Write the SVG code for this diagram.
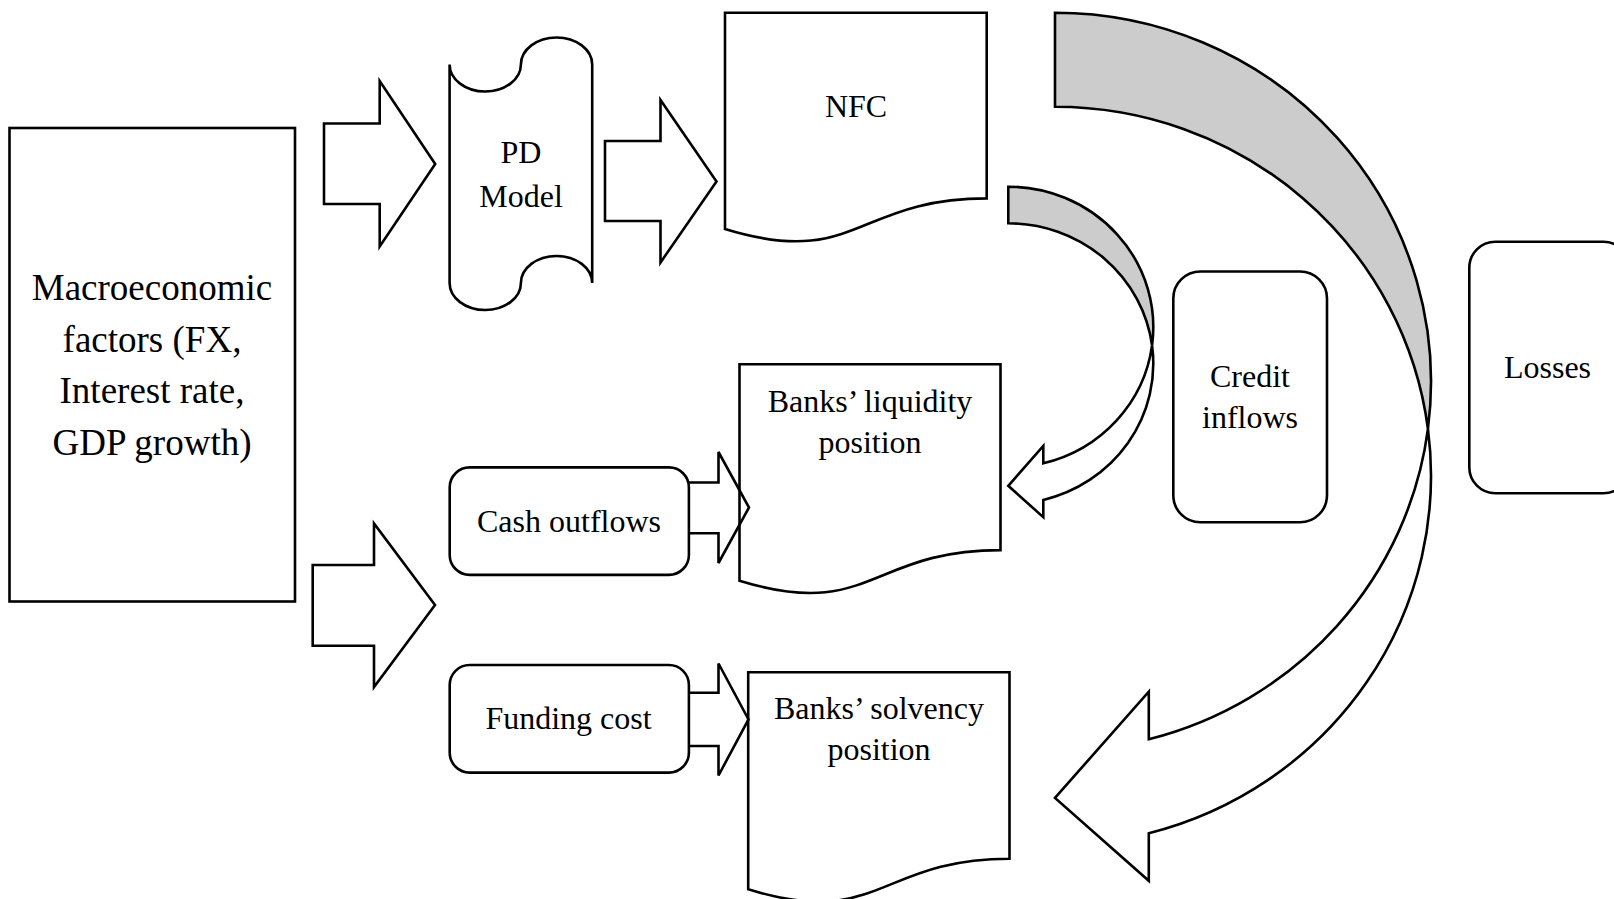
<svg xmlns="http://www.w3.org/2000/svg" width="1614" height="899" viewBox="0 0 1614 899">
<style>
.s{fill:#fff;stroke:#000;stroke-width:2.6;stroke-linejoin:miter}
.n{fill:none;stroke:#000;stroke-width:2.6}
.g{fill:#cccccc;stroke:#000;stroke-width:2.6}
.t{font-family:"Liberation Serif","Times New Roman",serif;font-size:32px;text-anchor:middle;fill:#000}
.tb{font-size:37px}
</style>
<rect width="1614" height="899" fill="#fff"/>
<g id="macro">
<rect class="s" x="9.5" y="128" width="285.5" height="473.5"/>
<text class="t tb" x="152" y="300">Macroeconomic</text>
<text class="t tb" x="152" y="351.5">factors (FX,</text>
<text class="t tb" x="152" y="403">Interest rate,</text>
<text class="t tb" x="152" y="454.5">GDP growth)</text>
</g>
<g id="pd-model">
<path class="s" d="M449.6 64.5 A35.6 27 0 0 0 520.9 64.5 A35.6 27 0 0 1 592.2 64.5 L592.2 283 A35.6 27 0 0 0 520.9 283 A35.6 27 0 0 1 449.6 283 Z"/>
<text class="t" x="521" y="163">PD</text>
<text class="t" x="521" y="206.5">Model</text>
</g>
<g id="nfc">
<path class="s" d="M725 12.7 L986.7 12.7 L986.7 198.4 C855.9 198.4 855.9 269.2 725 229 Z"/>
<text class="t" x="856" y="116.7">NFC</text>
</g>
<g id="liquidity">
<path class="s" d="M739.5 364.3 L1000.5 364.3 L1000.5 550.1 C870 550.1 870 620.9 739.5 580.7 Z"/>
<text class="t" x="870" y="411.7">Banks’ liquidity</text>
<text class="t" x="870" y="453.3">position</text>
</g>
<g id="solvency">
<path class="s" d="M748.2 672.3 L1009.5 672.3 L1009.5 858.7 C878.9 858.7 878.9 929.7 748.2 889.3 Z"/>
<text class="t" x="879" y="719.3">Banks’ solvency</text>
<text class="t" x="879" y="760">position</text>
</g>
<g id="cash-outflows">
<rect class="s" x="449.7" y="467.4" width="239.2" height="107.5" rx="20" ry="20"/>
<text class="t" x="569" y="531.7">Cash outflows</text>
</g>
<g id="funding-cost">
<rect class="s" x="449.7" y="665" width="239.2" height="107.6" rx="20" ry="20"/>
<text class="t" x="568.5" y="729.3">Funding cost</text>
</g>
<g id="credit-inflows">
<rect class="s" x="1173.3" y="271.5" width="153.7" height="250.8" rx="27" ry="27"/>
<text class="t" x="1250" y="386.7">Credit</text>
<text class="t" x="1250" y="428.3">inflows</text>
</g>
<g id="losses">
<rect class="s" x="1469.3" y="241.7" width="160" height="251.6" rx="26" ry="26"/>
<text class="t" x="1547.5" y="378.3">Losses</text>
</g>
<g id="connectors">
<polygon class="s" points="324,123.5 379.7,123.5 379.7,81 435.2,164 379.7,246.5 379.7,204 324,204"/>
<polygon class="s" points="605,141 660.5,141 660.5,100 716.5,181.5 660.5,262.5 660.5,221 605,221"/>
<polygon class="s" points="312.7,565 374,565 374,523.5 435,605 374,687 374,645.7 312.7,645.7"/>
<path class="n" d="M688.9 482.5 L718.5 482.5 L718.5 452 L749 507.5 L718.5 563 L718.5 533.3 L688.9 533.3"/>
<path class="n" d="M688.9 692.7 L718.5 692.7 L718.5 663.5 L748.5 719.4 L718.5 775.5 L718.5 746 L688.9 746"/>
<path class="s" d="M1008.3 485.8 L1043.3 446 L1043.3 463.3 A145 140.4 0 0 0 1152.06 345.4 A145 140.4 0 0 1 1043.3 499.9 L1043.3 517.2 Z"/>
<path class="g" d="M1008.3 186.7 A145 140.4 0 0 1 1152.06 345.4 A145 140.4 0 0 0 1008.3 223.3 Z"/>
<path class="s" d="M1055 797.9 L1148.8 691.6 L1148.8 739.2 A376 369.1 0 0 0 1427.94 428.8 A376 369.1 0 0 1 1148.8 833.2 L1148.8 880.8 Z"/>
<path class="g" d="M1055 12.7 A376 369.1 0 0 1 1427.94 428.8 A376 369.1 0 0 0 1055 106.7 Z"/>
</g>
</svg>
